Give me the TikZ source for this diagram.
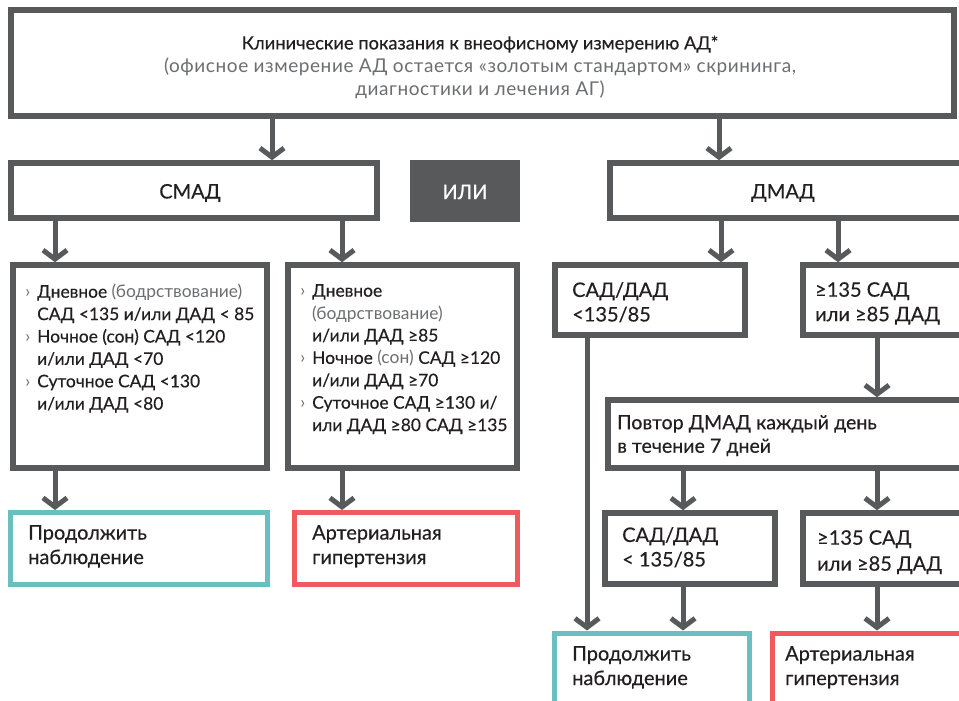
\documentclass[tikz,border=0pt]{standalone}
\usepackage{fontspec}
\setmainfont{Lato}[FakeBold=0.35]
\newfontfamily\lt{Lato}
\newfontfamily\ltsp{Lato}[LetterSpace=3]
\usetikzlibrary{arrows.meta}
\definecolor{dg}{HTML}{58595B}
\definecolor{tx}{HTML}{231F20}
\definecolor{gt}{HTML}{6D6E71}
\definecolor{teal}{HTML}{6CBFC1}
\definecolor{rd}{HTML}{EE5A5E}
\tikzset{
  box/.style={draw=dg, line width=5.5pt, fill=white, inner sep=0pt, outer sep=0.5\pgflinewidth},
  tbox/.style={draw=teal, line width=5pt, fill=white, inner sep=0pt},
  rbox/.style={draw=rd, line width=5pt, fill=white, inner sep=0pt},
  arr/.style={draw=dg, line width=5pt, -{Straight Barb[length=9pt,width=24pt,line width=5pt]}},
  txt/.style={inner sep=0pt, text=tx, align=left, anchor=north west},
  s17/.style={font=\fontsize{17.4}{22.4}\selectfont},
  s20/.style={font=\fontsize{20}{24.5}\selectfont},
  s20b/.style={font=\fontsize{20}{26}\selectfont},
}
\newcommand{\bul}{\llap{\textcolor{gt}{\lt ›}\hspace{7pt}}}
\newcommand{\gr}[1]{{\lt\color{gt}#1}}
\newcommand{\grs}[1]{{\ltsp\fontsize{19}{22.8}\selectfont\color{gt}#1}}
\begin{document}
\begin{tikzpicture}[x=1pt,y=-1pt]
\useasboundingbox (0,0) rectangle (959,701);
\clip (0,0) rectangle (959,701);
\fill[white] (0,0) rectangle (959,701);
% top
\node[box, minimum width=943pt, minimum height=106pt] (top) at (482.5,63) {};
\node[inner sep=0pt, align=center, font=\fontsize{18.3}{22.8}\selectfont] (title) at (480,67)
 {\textcolor{tx}{Клинические показания к внеофисному измерению АД*}\\
  \grs{(офисное измерение АД остается «золотым стандартом» скрининга,}\\
  \grs{диагностики и лечения АГ)}};
% row 2
\node[box, minimum width=366pt, minimum height=55pt] (smad) at (194,190.5) {};
\node[s20, text=tx, inner sep=0pt] (smadt) at (190,193) {СМАД};
\node[fill=dg, minimum width=110pt, minimum height=62pt, inner sep=0pt] (ili) at (465,191) {};
\node[s20, text=white, inner sep=0pt] (ilit) at (465,192) {ИЛИ};
\node[box, minimum width=400pt, minimum height=55pt, anchor=west] (dmad) at (607,190.5) {};
\node[s20, text=tx, inner sep=0pt] (dmadt) at (783,193) {ДМАД};
% SMAD sub boxes
\node[box, minimum width=254pt, minimum height=203pt] (sl) at (140,366.5) {};
\node[box, minimum width=229pt, minimum height=203pt] (sr) at (402.5,366.5) {};
\node[txt, s17] (slt) at (37,284) {\bul Дневное \gr{(бодрствование)}\\
САД <135 и/или ДАД < 85\\
\bul Ночное (сон) САД <120\\
и/или ДАД <70\\
\bul Суточное САД <130\\
и/или ДАД <80};
\node[txt, s17] (srt) at (312,284) {\bul Дневное\\
\gr{(бодрствование)}\\
и/или ДАД ≥85\\
\bul Ночное \gr{(сон)} САД ≥120\\
и/или ДАД ≥70\\
\bul Суточное САД ≥130 и/\\
или ДАД ≥80 САД ≥135};
% SMAD outcomes
\node[tbox, minimum width=257pt, minimum height=72pt] (cl) at (139,548.5) {};
\node[txt, s20] (clt) at (28,525) {Продолжить\\наблюдение};
\node[rbox, minimum width=223pt, minimum height=72pt] (hl) at (406,548.5) {};
\node[txt, s20] (hlt) at (312,525) {Артериальная\\гипертензия};
% DMAD sub boxes
\node[box, minimum width=190pt, minimum height=70pt] (d1) at (650,300) {};
\node[txt, s20] (d1t) at (572,282) {САД/ДАД\\<135/85};
\node[box, minimum width=300pt, minimum height=70pt, anchor=west] (d2) at (800,300) {};
\node[txt, s20] (d2t) at (815,282) {≥135 САД\\или ≥85 ДАД};
\node[box, minimum width=400pt, minimum height=68pt, anchor=west] (rep) at (605,434) {};
\node[txt, font=\fontsize{19.6}{23.5}\selectfont] (rept) at (617,415) {Повтор ДМАД каждый день\\в течение 7 дней};
\node[box, minimum width=170pt, minimum height=71pt] (d3) at (690,548.5) {};
\node[txt, s20] (d3t) at (622,527) {САД/ДАД\\< 135/85};
\node[box, minimum width=300pt, minimum height=71pt, anchor=west] (d4) at (800,548.5) {};
\node[txt, s20b] (d4t) at (817,530) {≥135 САД\\или ≥85 ДАД};
\node[tbox, minimum width=195pt, minimum height=100pt, anchor=north] (cr) at (652,630.5) {};
\node[txt, s20] (crt) at (572,646) {Продолжить\\наблюдение};
\node[rbox, minimum width=300pt, minimum height=100pt, anchor=north west] (hr) at (769.5,630.5) {};
\node[txt, s20] (hrt) at (785,646) {Артериальная\\гипертензия};
% arrow columns
\coordinate (a1) at (272,0);
\coordinate (a2) at (719,0);
\coordinate (b1) at (55,0);
\coordinate (b2) at (342,0);
\coordinate (c1) at (721,0);
\coordinate (c2) at (838,0);
\coordinate (c3) at (877,0);
\coordinate (c4) at (683,0);
\coordinate (c5) at (587,0);
% connectors
\draw[arr] (top.south -| a1) -- (smad.north -| a1);
\draw[arr] (top.south -| a2) -- (dmad.north -| a2);
\draw[arr] (smad.south -| b1) -- (sl.north -| b1);
\draw[arr] (smad.south -| b2) -- (sr.north -| b2);
\draw[arr] (sl.south -| b1) -- (cl.north -| b1);
\draw[arr] (sr.south -| b2) -- (hl.north -| b2);
\draw[arr] (dmad.south -| c1) -- (d1.north -| c1);
\draw[arr] (dmad.south -| c2) -- (d2.north -| c2);
\draw[arr] (d2.south -| c3) -- (rep.north -| c3);
\draw[arr] (rep.south -| c4) -- (d3.north -| c4);
\draw[arr] (rep.south -| c3) -- (d4.north -| c3);
\draw[arr] (d3.south -| c4) -- (cr.north -| c4);
\draw[arr] (d4.south -| c3) -- (hr.north -| c3);
\draw[arr] (d1.south -| c5) -- (cr.north -| c5);
\end{tikzpicture}
\end{document}
